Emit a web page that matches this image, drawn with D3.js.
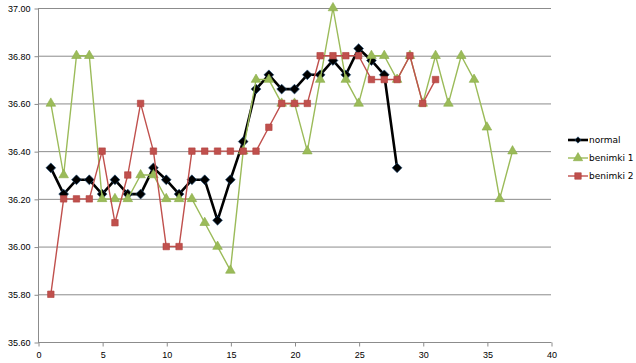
<!DOCTYPE html>
<html>
<head>
<meta charset="utf-8">
<script src="https://cdn.jsdelivr.net/npm/d3@7"></script>
<style>
body{margin:0;background:#fff;}
svg{display:block;font-family:"DejaVu Sans",Verdana,sans-serif;}
</style>
</head>
<body>
<svg id="canvas" width="636" height="363"></svg>
<script>
// values
let days=d3.range(1,38);
let normal=[36.33,36.22,36.28,36.28,36.22,36.28,36.22,36.22,36.33,36.28,36.22,36.28,36.28,36.11,36.28,36.44,36.66,36.72,36.66,36.66,36.72,36.72,36.78,36.72,36.83,36.78,36.72,36.33];
let benimki1=[36.6,36.3,36.8,36.8,36.2,36.2,36.2,36.3,36.3,36.2,36.2,36.2,36.1,36.0,35.9,36.4,36.7,36.7,36.6,36.6,36.4,36.7,37.0,36.7,36.6,36.8,36.8,36.7,36.8,36.6,36.8,36.6,36.8,36.7,36.5,36.2,36.4];
let benimki2=[35.8,36.2,36.2,36.2,36.4,36.1,36.3,36.6,36.4,36.0,36.0,36.4,36.4,36.4,36.4,36.4,36.4,36.5,36.6,36.6,36.6,36.8,36.8,36.8,36.8,36.7,36.7,36.7,36.8,36.6,36.7];
let seriesNames=["normal","benimki 1","benimki 2"];
let xTicks=[0,5,10,15,20,25,30,35,40];
let yTicks=[35.6,35.8,36.0,36.2,36.4,36.6,36.8,37.0];

let svg=d3.select('#canvas');
let padL=38,padR=551,padT=8,padB=342;

let x=d3.scaleLinear().domain([0,40]).range([padL,padR]);
let y=d3.scaleLinear().domain([35.6,37.0]).range([padB,padT]);

// gridlines
svg.append('g').selectAll('line').data(yTicks).enter().append('line')
  .attr('x1',padL).attr('x2',padR).attr('y1',d=>y(d)+0.5).attr('y2',d=>y(d)+0.5)
  .attr('stroke','#8c8c8c').attr('stroke-width',1);

let yAxis=d3.axisLeft(y).tickValues(yTicks).tickFormat(d3.format('.2f')).tickSize(4).tickPadding(4);
let gy=svg.append('g').attr('transform','translate('+(padL+0.5)+',0.5)').call(yAxis);
let xAxis=d3.axisBottom(x).tickValues(xTicks).tickSize(4).tickPadding(5);
let gx=svg.append('g').attr('transform','translate(0.5,'+(padB+0.5)+')').call(xAxis);
[gx,gy].forEach(g=>{
  g.selectAll('path').attr('stroke','#8c8c8c');
  g.selectAll('line').attr('stroke','#8c8c8c');
  g.selectAll('text').style('font-size','9px').attr('fill','#000');
});
gx.select('.domain').attr('d','M'+padL+',0H'+padR);
gy.select('.domain').attr('d','M0,'+padT+'V'+padB);

let line=d3.line().defined(d=>d!=null).x((d,i)=>x(days[i])).y(d=>y(d));

// diamond = square turned 45deg
let diamond=d3.symbol().type(d3.symbolSquare).size(48);
let tri=d3.symbol().type(d3.symbolTriangle).size(40);
let sq=d3.symbol().type(d3.symbolSquare).size(42);

let conf=[
  {data:normal,stroke:'#000',w:2.6,sym:diamond,rot:45,fill:'#000',edge:'#1f4e79'},
  {data:benimki1,stroke:'#9bbb59',w:1.4,sym:tri,rot:0,fill:'#9bbb59',edge:'#8aac48'},
  {data:benimki2,stroke:'#c0504d',w:1.4,sym:sq,rot:0,fill:'#c0504d',edge:'#b0403d'}
];

conf.forEach(c=>{
  svg.append('path').datum(c.data).attr('d',line).attr('fill','none')
    .attr('stroke',c.stroke).attr('stroke-width',c.w).attr('stroke-linejoin','round');
  svg.append('g').selectAll('path').data(c.data).enter().append('path')
    .attr('d',c.sym).attr('transform',(d,i)=>'translate('+x(days[i])+','+y(d)+') rotate('+c.rot+')')
    .attr('fill',c.fill).attr('stroke',c.edge).attr('stroke-width',0.6);
});

// legend
let leg=svg.append('g');
conf.forEach((c,i)=>{
  let ly=140+i*18;
  leg.append('line').attr('x1',568).attr('x2',588).attr('y1',ly).attr('y2',ly)
    .attr('stroke',c.stroke).attr('stroke-width',c.w);
  leg.append('path').attr('d',d3.symbol().type([d3.symbolSquare,d3.symbolTriangle,d3.symbolSquare][i]).size([20,38,42][i]))
    .attr('transform','translate(578,'+ly+') rotate('+c.rot+')').attr('fill',c.fill).attr('stroke',c.edge).attr('stroke-width',0.6);
  leg.append('text').attr('x',589).attr('y',ly).attr('dy','0.35em')
    .style('font-size','9px').text(seriesNames[i]);
});
</script>
</body>
</html>
